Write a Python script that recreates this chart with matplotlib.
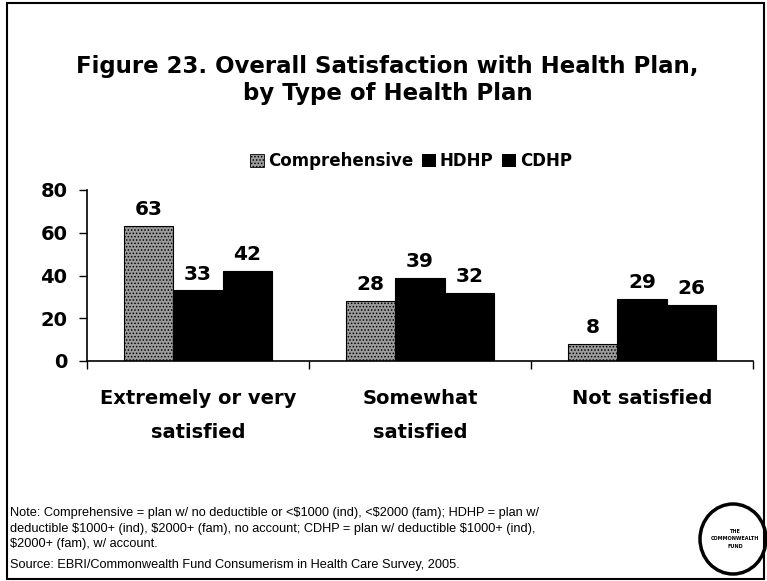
import matplotlib
matplotlib.use('Agg')
import matplotlib.pyplot as plt
import matplotlib.patches as patches
import numpy as np

categories = ['Extremely or very\nsatisfied', 'Somewhat\nsatisfied', 'Not satisfied']
series = ['Comprehensive', 'HDHP', 'CDHP']
comprehensive = [63, 28, 8]
hdhp = [33, 39, 29]
cdhp = [42, 32, 26]
yticks = [0, 20, 40, 60, 80]

title = 'Figure 23. Overall Satisfaction with Health Plan,\nby Type of Health Plan'
note = ('Note: Comprehensive = plan w/ no deductible or <$1000 (ind), <$2000 (fam); HDHP = plan w/\n'
        'deductible $1000+ (ind), $2000+ (fam), no account; CDHP = plan w/ deductible $1000+ (ind),\n'
        '$2000+ (fam), w/ account.')
source = 'Source: EBRI/Commonwealth Fund Consumerism in Health Care Survey, 2005.'

plt.rcParams['font.family'] = 'DejaVu Sans'
plt.rcParams['hatch.color'] = '#505050'
plt.rcParams['hatch.linewidth'] = 0.7

W, H = 767, 581
fig = plt.figure(figsize=(W / 100, H / 100), dpi=100)
ax = fig.add_axes([87 / W, 1 - 361 / H, 666 / W, 171 / H])

x = np.arange(len(categories))
bw = 0.222
styles = [dict(facecolor='#9c9c9c', hatch='.....'),
          dict(facecolor='black'),
          dict(facecolor='black')]
for i, (vals, st) in enumerate(zip([comprehensive, hdhp, cdhp], styles)):
    bars = ax.bar(x + (i - 1) * bw, vals, bw, edgecolor='black', linewidth=0.8,
                  label=series[i], **st)
    for b, v in zip(bars, vals):
        ax.annotate(str(v), (b.get_x() + b.get_width() / 2, v), xytext=(0, 5),
                    textcoords='offset points', ha='center', va='bottom',
                    fontsize=14.5, fontweight='bold')

ax.set_xlim(-0.5, 2.5)
ax.set_ylim(0, 80)
ax.set_yticks(yticks)
ax.set_yticklabels([str(t) for t in yticks], fontsize=14, fontweight='bold')
ax.set_xticks(x)
ax.set_xticklabels(categories, fontsize=14, fontweight='bold', linespacing=2.0)
ax.set_xticks([-0.5, 0.5, 1.5, 2.5], minor=True)
ax.tick_params(axis='x', which='major', length=0, pad=20)
ax.tick_params(axis='x', which='minor', length=6, direction='out', width=1)
ax.tick_params(axis='y', length=6, width=1, pad=8)
for s in ['top', 'right']:
    ax.spines[s].set_visible(False)
ax.spines['left'].set_linewidth(1.2)
ax.spines['bottom'].set_linewidth(1.2)

fig.text(0.505, 1 - 80 / H, title, ha='center', va='center', fontsize=16.5,
         fontweight='bold', linespacing=1.2)

handles = [patches.Rectangle((0, 0), 1, 1, facecolor='#9c9c9c', hatch='.....', edgecolor='black', linewidth=0.6),
           patches.Rectangle((0, 0), 1, 1, facecolor='black'),
           patches.Rectangle((0, 0), 1, 1, facecolor='black')]
fig.legend(handles, series, loc='center', bbox_to_anchor=(411 / W, 1 - 161 / H), ncol=3,
           frameon=False, handlelength=0.85, handleheight=0.85, handletextpad=0.25,
           columnspacing=0.5, prop=dict(weight='bold', size=12))

fig.text(10 / W, 1 - 507 / H, note, ha='left', va='top', fontsize=9.2,
         family='Liberation Sans', linespacing=1.4, parse_math=False)
fig.text(10 / W, 1 - 565 / H, source, ha='left', va='center', fontsize=9.2,
         family='Liberation Sans', parse_math=False)

# logo
circ = patches.Ellipse((733 / W, 1 - 539 / H), 66 / W, 70 / H, transform=fig.transFigure,
                       facecolor='none', edgecolor='black', linewidth=2.5)
fig.add_artist(circ)
fig.text(735 / W, 1 - 539 / H, 'THE\nCOMMONWEALTH\nFUND', ha='center', va='center',
         fontsize=3.5, fontweight='bold', linespacing=1.6)

# border
border = patches.Rectangle((7 / W, 2 / H), 757 / W, 576 / H, transform=fig.transFigure,
                           facecolor='none', edgecolor='black', linewidth=1.5)
fig.add_artist(border)

fig.savefig('out.png', dpi=100)
